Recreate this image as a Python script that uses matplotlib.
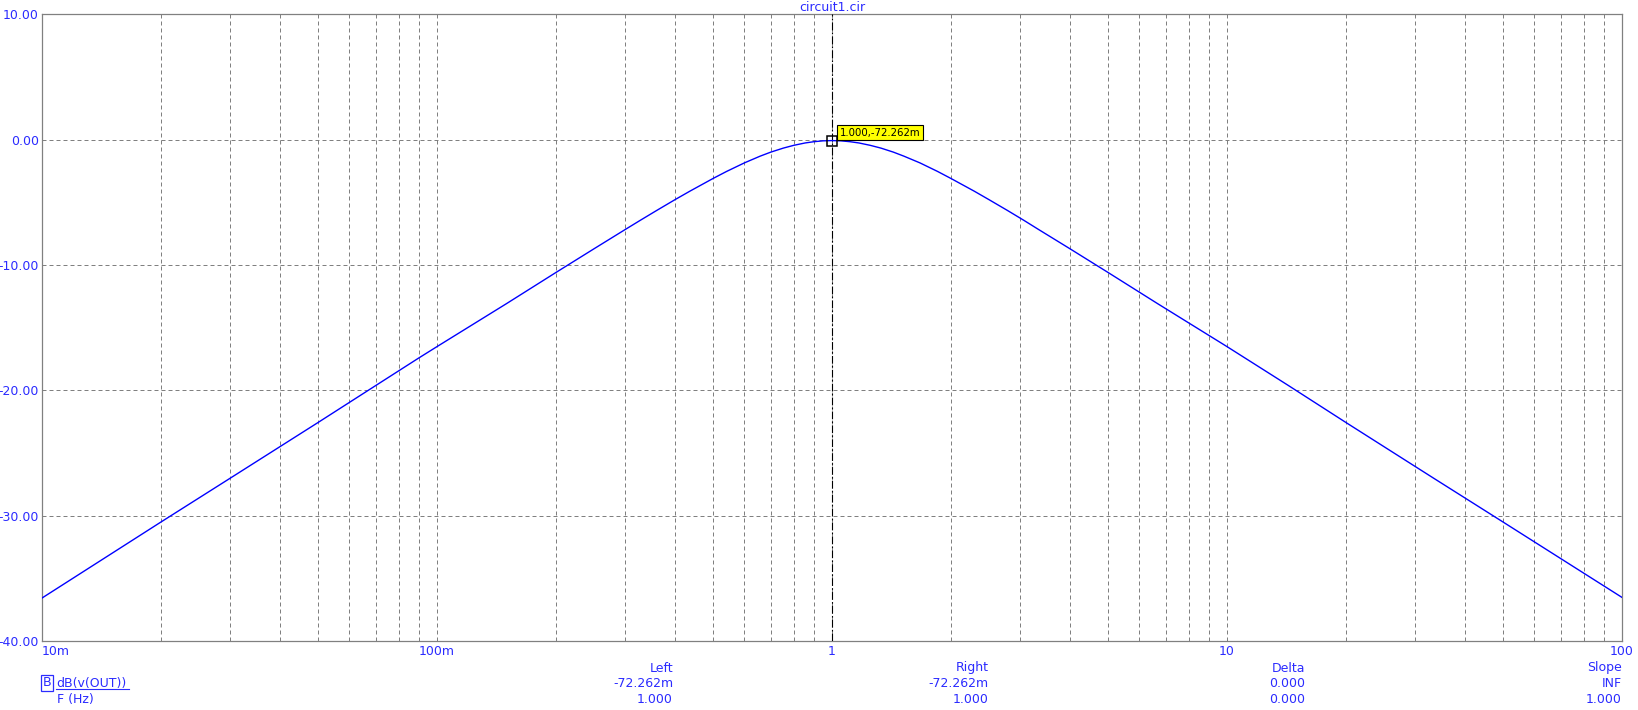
import matplotlib
matplotlib.use('Agg')
import matplotlib.pyplot as plt
from matplotlib.lines import Line2D
from matplotlib.ticker import FixedLocator, NullFormatter

# AC sweep: frequency (Hz) and magnitude (dB)
freq = [0.01, 0.02, 0.03, 0.05, 0.07, 0.09, 0.1, 0.15, 0.2, 0.25, 0.3,
        0.327, 0.36, 0.4, 0.437, 0.5, 0.541, 0.6, 0.658, 0.7, 0.753, 0.8,
        0.855, 0.9, 0.95, 1.0,
        1.053, 1.111, 1.17, 1.25, 1.33, 1.43, 1.52, 1.67, 1.85, 2.0, 2.29,
        2.5, 2.78, 3.06, 3.33, 4.0, 5.0, 6.67, 10.0, 14.3, 20.0, 33.3, 50.0,
        100.0]
db = [-36.55, -30.49, -26.98, -22.55, -19.6, -17.4, -16.5, -13.07, -10.59,
      -8.69, -7.15, -6.43, -5.64, -4.79, -4.10, -3.09, -2.53, -1.85, -1.31,
      -0.99, -0.67, -0.45, -0.26, -0.16, -0.09, -0.072,
      -0.09, -0.16, -0.26, -0.45, -0.67, -0.99, -1.31, -1.85, -2.53, -3.09,
      -4.10, -4.79, -5.64, -6.43, -7.15, -8.69, -10.59, -13.07, -16.5, -19.6,
      -22.55, -26.98, -30.49, -36.5]

xticks = [0.01, 0.1, 1, 10, 100]
xtick_labels = ['10m', '100m', '1', '10', '100']
yticks = [10, 0, -10, -20, -30, -40]
ytick_labels = ['10.00', '0.00', '-10.00', '-20.00', '-30.00', '-40.00']

cursor_f = 1.0
cursor_db = -0.072
cursor_label = '1.000,-72.262m'

table_heads = ['Left', 'Right', 'Delta', 'Slope']
table_row1 = ['-72.262m', '-72.262m', '0.000', 'INF']
table_row2 = ['1.000', '1.000', '0.000', '1.000']

W, H = 1638, 710
TXT = '#2b2bff'
GRID = '#808080'
plt.rcParams['font.family'] = ['DejaVu Sans']
FS = 9

fig = plt.figure(figsize=(W / 100, H / 100), dpi=100)
ax = fig.add_axes([42 / W, 1 - 641.3 / H, (1622 - 42) / W, (641.3 - 14.3) / H])

ax.plot(freq, db, color='#0000ff', lw=1.0, zorder=3)

ax.set_xscale('log')
ax.set_xlim(0.01, 100)
ax.set_ylim(-40, 10)
ax.set_xticks(xticks)
ax.set_xticklabels(xtick_labels)
minors = [m * d for d in [0.01, 0.1, 1, 10] for m in range(2, 10)]
ax.xaxis.set_minor_locator(FixedLocator(minors))
ax.xaxis.set_minor_formatter(NullFormatter())
ax.set_yticks(yticks)
ax.set_yticklabels(ytick_labels)

ax.tick_params(which='both', length=0, colors=TXT, labelsize=FS)
ax.tick_params(axis='x', pad=2.9)
ax.tick_params(axis='y', pad=2.2)
ax.get_xticklabels()[0].set_horizontalalignment('left')

ax.grid(which='both', axis='x', color=GRID, lw=0.72, linestyle=(0, (4, 3)))
ax.grid(which='major', axis='y', color=GRID, lw=0.72, linestyle=(0, (4, 3)))
for s in ax.spines.values():
    s.set_color(GRID)
    s.set_linewidth(0.9)

# cursor
ax.axvline(cursor_f, color='black', lw=0.8, linestyle=(0, (7, 2, 1.5, 2)), zorder=2.6)
ax.plot([cursor_f], [cursor_db], marker='s', ms=7.2, mfc='none', mec='black', mew=1.1, zorder=4)
ax.annotate(cursor_label, xy=(cursor_f, cursor_db), xytext=(8, 3),
            textcoords='offset pixels', ha='left', va='bottom', fontsize=7.3,
            color='black', zorder=5,
            bbox=dict(boxstyle='square,pad=0.25', fc='#ffff00', ec='black', lw=0.8))

fig.text(832 / W, 1 - 7.5 / H, 'circuit1.cir', ha='center', va='center', color=TXT, fontsize=FS)

# readout table under the plot
cols = [673, 989, 1305.5, 1621.5]
rows = [671.5, 687, 702.7]
for x, a, b, c in zip(cols, table_heads, table_row1, table_row2):
    for y, t in zip(rows, [a, b, c]):
        fig.text(x / W, 1 - y / H, t, ha='right', va='baseline', color=TXT, fontsize=FS)

fig.text(47 / W, 1 - 686 / H, 'B', ha='center', va='baseline', color=TXT, fontsize=FS,
         bbox=dict(boxstyle='square,pad=0.12', fc='none', ec=TXT, lw=0.9))
fig.text(56 / W, 1 - 686.5 / H, 'dB(v(OUT))', ha='left', va='baseline', color=TXT, fontsize=FS)
fig.add_artist(Line2D([56 / W, 129 / W], [1 - 688.5 / H, 1 - 688.5 / H], color=TXT, lw=0.8))
fig.text(57 / W, 1 - 702.7 / H, 'F (Hz)', ha='left', va='baseline', color=TXT, fontsize=FS)

plt.savefig('out.png', dpi=100)
